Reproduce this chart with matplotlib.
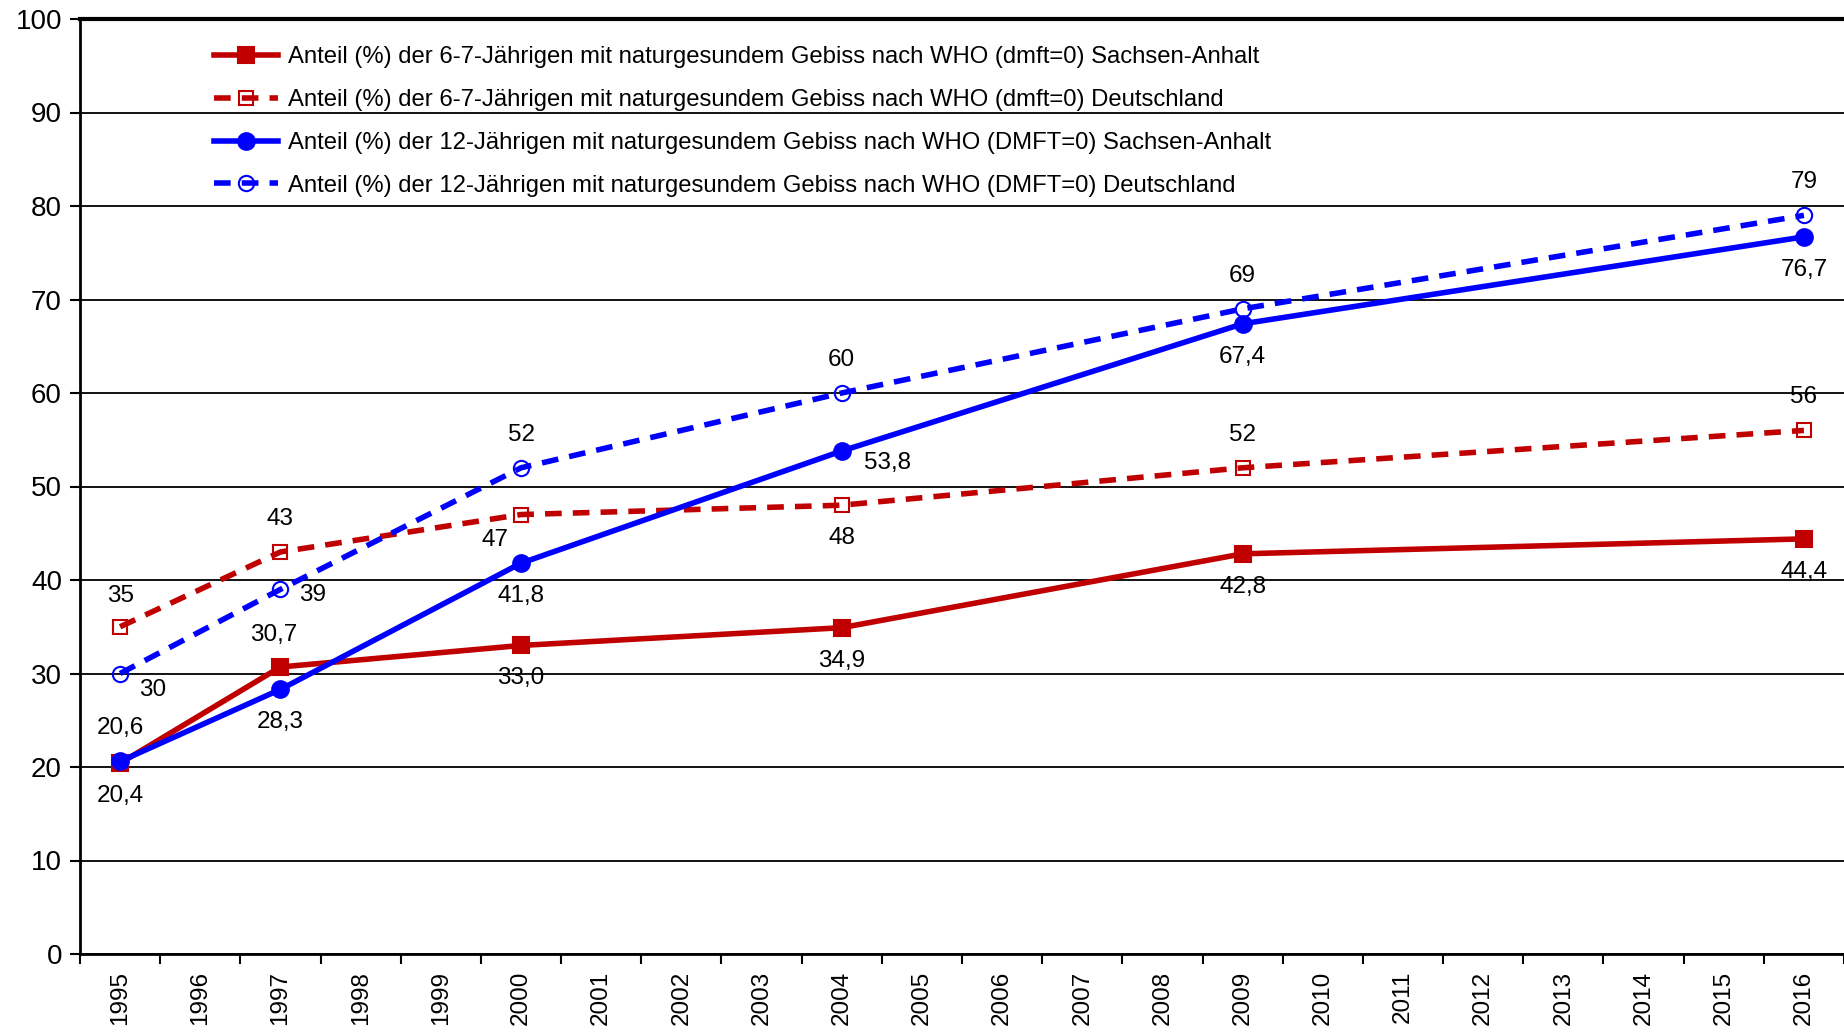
import matplotlib
matplotlib.use("Agg")
import matplotlib.pyplot as plt
import numpy as np

plt.rcParams['font.family'] = ['Liberation Sans', 'DejaVu Sans']

years = list(range(1995, 2017))
survey_years = [1995, 1997, 2000, 2004, 2009, 2016]

kids67_sa = [20.4, 30.7, 33.0, 34.9, 42.8, 44.4]
kids67_de = [35, 43, 47, 48, 52, 56]
kids12_sa = [20.6, 28.3, 41.8, 53.8, 67.4, 76.7]
kids12_de = [30, 39, 52, 60, 69, 79]

labels = [
    "Anteil (%) der 6-7-Jährigen mit naturgesundem Gebiss nach WHO (dmft=0) Sachsen-Anhalt",
    "Anteil (%) der 6-7-Jährigen mit naturgesundem Gebiss nach WHO (dmft=0) Deutschland",
    "Anteil (%) der 12-Jährigen mit naturgesundem Gebiss nach WHO (DMFT=0) Sachsen-Anhalt",
    "Anteil (%) der 12-Jährigen mit naturgesundem Gebiss nach WHO (DMFT=0) Deutschland",
]

RED = '#C00000'
BLUE = '#0000FF'

# label offsets in pixels (dx, dy) for each point of each series
U, D = (0, 33), (0, -33)
offs_67sa = [D, (-7, 32), D, D, D, D]
offs_67de = [(0, 31), U, (-26, -25), D, U, U]
offs_12sa = [U, D, D, (46, -12), D, D]
offs_12de = [(33, -17), (32, -6), U, U, U, U]

fig = plt.figure(figsize=(18.44, 10.33), dpi=100)
ax = fig.add_axes([80 / 1844, 79 / 1033, 1 - 80 / 1844, (954 - 19) / 1033])

xs = [years.index(y) for y in survey_years]

series = [
    (kids67_sa, RED, '-', 's', RED, 12, offs_67sa),
    (kids67_de, RED, (0, (3, 2)), 's', 'none', 10, offs_67de),
    (kids12_sa, BLUE, '-', 'o', BLUE, 12, offs_12sa),
    (kids12_de, BLUE, (0, (3, 2)), 'o', 'none', 11, offs_12de),
]

for i, (vals, col, ls, mk, mfc, ms, offs) in enumerate(series):
    ax.plot(xs, vals, color=col, linestyle=ls, linewidth=4, marker=mk,
            markersize=ms, markerfacecolor=mfc, markeredgecolor=col,
            markeredgewidth=1.5, label=labels[i], zorder=3)
    for x, v, (dx, dy) in zip(xs, vals, offs):
        txt = f"{v:.1f}".replace('.', ',') if isinstance(v, float) else str(v)
        ax.annotate(txt, (x, v), xytext=(dx, dy), textcoords='offset pixels',
                    ha='center', va='center', fontsize=17.5, color='black')

ax.set_ylim(0, 100)
ax.set_xlim(-0.5, len(years) - 0.5)
ax.set_yticks(range(0, 101, 10))
ax.tick_params(axis='y', labelsize=20, length=7, width=1.5, direction='out', pad=6)
ax.set_xticks(range(len(years)))
ax.set_xticklabels(years, rotation=90, fontsize=17.5)
ax.tick_params(axis='x', length=0, pad=12)
ax.set_xticks(np.arange(-0.5, len(years), 1), minor=True)
ax.tick_params(axis='x', which='minor', length=7, width=1.5, direction='out')

ax.grid(axis='y', color='black', linewidth=1.3)
ax.set_axisbelow(True)
for s in ['left', 'bottom']:
    ax.spines[s].set_linewidth(2)
ax.spines['top'].set_linewidth(3)
ax.spines['right'].set_visible(False)

ax.legend(loc='upper left', bbox_to_anchor=(192 / 1844, 1 - 25 / 1033),
          bbox_transform=fig.transFigure, frameon=False, fontsize=17.2,
          handlelength=2.7, labelspacing=0.87, handletextpad=0.4)

fig.savefig('out.png', dpi=100)
